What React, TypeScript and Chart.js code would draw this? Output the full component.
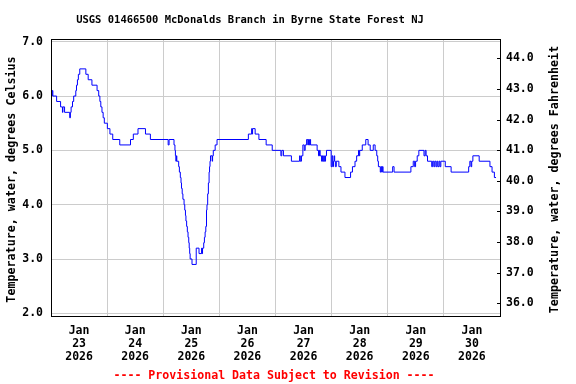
import React, { useEffect, useRef } from "react";
import { Chart, registerables } from "chart.js";

Chart.register(...registerables);

const TITLE = "USGS 01466500 McDonalds Branch in Byrne State Forest NJ";
const LEFT_TITLE = "Temperature, water, degrees Celsius";
const RIGHT_TITLE = "Temperature, water, degrees Fahrenheit";
const FOOTER = "---- Provisional Data Subject to Revision ----";

// hours since 2026-01-23 00:00 at which the reading changes
const hours = [
  0, 0.3, 0.5, 0.8, 2.4, 4.1, 4.9, 5.1, 5.8, 8.0, 8.3, 8.6, 9.2, 9.7, 10.6, 10.9, 11.3, 11.7, 12.3,
  14.9, 15.9, 17.5, 19.7, 20.4, 20.9, 21.3, 21.8, 22.3, 22.8, 24.1, 25.2, 26.4, 29.4, 34.0, 35.2,
  37.2, 40.4, 42.5, 50.1, 50.5, 52.6, 53.0, 53.2, 53.4, 53.6, 53.8, 54.6, 54.9, 55.3, 55.6, 55.8,
  56.1, 56.4, 56.9, 57.2, 57.5, 57.7, 58.0, 58.3, 58.6, 58.9, 59.1, 59.3, 59.5, 60.3, 62.1, 63.3,
  64.4, 64.6, 64.8, 65.3, 65.6, 65.9, 66.2, 66.5, 66.7, 67.0, 67.3, 67.6, 67.8, 68.0, 68.2, 68.9,
  69.1, 69.4, 70.2, 71.0, 84.4, 85.8, 86.0, 86.2, 87.3, 88.9, 92.0, 94.6, 98.3, 98.7, 99.4, 102.8,
  106.3, 106.6, 107.1, 107.7, 108.3, 108.7, 109.3, 109.8, 110.1, 110.5, 110.8, 111.0, 113.8, 114.4,
  114.8, 115.1, 115.7, 116.0, 116.2, 116.6, 116.9, 117.4, 117.8, 119.8, 120.2, 120.5, 120.8, 121.1,
  121.3, 121.6, 122.0, 123.1, 124.0, 125.7, 128.1, 128.9, 130.0, 130.7, 131.5, 131.8, 132.0, 133.1,
  134.6, 135.6, 136.5, 137.8, 138.6, 139.3, 139.7, 140.0, 140.8, 141.1, 141.4, 141.7, 142.0, 146.1,
  146.7, 153.9, 154.9, 155.5, 155.9, 156.6, 157.3, 159.5, 160.0, 160.4, 161.0, 162.8, 163.2, 163.7,
  164.1, 164.6, 165.0, 165.4, 165.9, 166.3, 166.7, 168.6, 171.1, 178.6, 179.1, 179.6, 179.9, 180.4,
  183.1, 187.7, 188.6, 189.6, 190.3,
];

const tempC = [
  6.1, 6.0, 6.1, 6.0, 5.9, 5.8, 5.7, 5.8, 5.7, 5.6, 5.7, 5.8, 5.9, 6.0, 6.1, 6.2, 6.3, 6.4, 6.5,
  6.4, 6.3, 6.2, 6.1, 6.0, 5.9, 5.8, 5.7, 5.6, 5.5, 5.4, 5.3, 5.2, 5.1, 5.2, 5.3,
  5.4, 5.3, 5.2, 5.1, 5.2, 5.1, 5.0, 4.9, 4.8, 4.9, 4.8, 4.7, 4.6, 4.5, 4.4, 4.3,
  4.2, 4.1, 4.0, 3.9, 3.8, 3.7, 3.6, 3.5, 3.4, 3.3, 3.2, 3.1, 3.0, 2.9, 3.2, 3.1,
  3.2, 3.1, 3.2, 3.3, 3.4, 3.5, 3.6, 3.9, 4.0, 4.2, 4.4, 4.6, 4.7, 4.8, 4.9, 4.8,
  4.9, 5.0, 5.1, 5.2, 5.3, 5.4, 5.3, 5.4, 5.3, 5.2, 5.1, 5.0, 4.9, 5.0, 4.9, 4.8,
  4.9, 4.8, 4.9, 5.1, 5.0, 5.1, 5.2, 5.1, 5.2, 5.1, 5.2, 5.1, 5.0, 4.9,
  5.0, 4.9, 4.8, 4.9, 4.8, 4.9, 4.8, 4.9, 5.0, 4.7, 4.9, 4.7, 4.8, 4.9,
  4.8, 4.7, 4.8, 4.7, 4.6, 4.5, 4.6, 4.7, 4.8, 4.9, 5.0, 4.9, 5.0, 5.1,
  5.2, 5.1, 5.0, 5.1, 5.0, 4.9, 4.8, 4.7, 4.6, 4.7, 4.6, 4.7, 4.6, 4.7,
  4.6, 4.7, 4.8, 4.7, 4.8, 4.9, 5.0, 4.9, 5.0, 4.9, 4.8, 4.7, 4.8, 4.7,
  4.8, 4.7, 4.8, 4.7, 4.8, 4.7, 4.8, 4.7, 4.6, 4.7, 4.8, 4.7, 4.8, 4.9,
  4.8, 4.7, 4.6, 4.5, 4.5,
];

const DAY_GRID_HOURS = [24, 48, 72, 96, 120, 144, 168];
const DAY_LABEL_HOURS = [12, 36, 60, 84, 108, 132, 156, 180];
const DAY_LABELS = [
  ["Jan", "23", "2026"],
  ["Jan", "24", "2026"],
  ["Jan", "25", "2026"],
  ["Jan", "26", "2026"],
  ["Jan", "27", "2026"],
  ["Jan", "28", "2026"],
  ["Jan", "29", "2026"],
  ["Jan", "30", "2026"],
];
const C_TICKS = [2, 3, 4, 5, 6, 7];
const F_TICKS = [36, 37, 38, 39, 40, 41, 42, 43, 44];

const X_MIN = 0;
const X_MAX = 192;
const C_MIN = 1.951;
const C_MAX = 7.05;
const F_MIN = 35.585;
const F_MAX = 44.63;

const FONT = '"DejaVu Sans Mono", monospace';

const decorPlugin = {
  id: "decor",
  afterDraw(chart: any) {
    const { ctx, chartArea: a } = chart;
    ctx.save();
    ctx.strokeStyle = "#000";
    ctx.lineWidth = 1;
    ctx.strokeRect(
      Math.round(a.left) + 0.5,
      Math.round(a.top) + 0.5,
      Math.round(a.right - a.left),
      Math.round(a.bottom - a.top)
    );
    const y2 = chart.scales.y2;
    F_TICKS.forEach((v) => {
      const y = Math.round(y2.getPixelForValue(v)) + 0.5;
      ctx.beginPath();
      ctx.moveTo(a.right - 3, y);
      ctx.lineTo(a.right + 0.5, y);
      ctx.stroke();
    });
    ctx.fillStyle = "#000";
    ctx.textAlign = "center";
    ctx.textBaseline = "middle";
    ctx.font = `bold 10.5px ${FONT}`;
    ctx.fillText(TITLE, 250, 20);

    const midY = (a.top + a.bottom) / 2 + 2;
    ctx.font = `bold 11.7px ${FONT}`;
    ctx.save();
    ctx.translate(12, midY);
    ctx.rotate(-Math.PI / 2);
    ctx.fillText(LEFT_TITLE, 0, 0);
    ctx.restore();
    ctx.save();
    ctx.translate(555, midY);
    ctx.rotate(-Math.PI / 2);
    ctx.fillText(RIGHT_TITLE, 0, 0);
    ctx.restore();

    ctx.fillStyle = "#ff0000";
    ctx.font = `bold 11.6px ${FONT}`;
    ctx.fillText(FOOTER, 274, 375.5);
    ctx.restore();
  },
};

export default function App() {
  const ref = useRef<HTMLCanvasElement | null>(null);

  useEffect(() => {
    if (!ref.current) return;
    const tickFont = { family: FONT, size: 11.5, weight: "bold" as const };
    const chart = new Chart(ref.current, {
      type: "line",
      data: {
        datasets: [
          {
            data: hours.map((h, i) => ({ x: h, y: tempC[i] })),
            borderColor: "#0000ff",
            borderWidth: 1,
            pointRadius: 0,
            stepped: "before",
            fill: false,
            xAxisID: "x",
            yAxisID: "y",
          },
        ],
      },
      options: {
        animation: false,
        responsive: false,
        devicePixelRatio: 1,
        layout: { padding: { top: 39, left: 0, right: 0, bottom: 0 } },
        plugins: {
          legend: { display: false },
          tooltip: { enabled: false },
          title: { display: false },
        },
        scales: {
          x: {
            type: "linear",
            position: "bottom",
            min: X_MIN,
            max: X_MAX,
            afterBuildTicks: (s: any) => {
              s.ticks = DAY_GRID_HOURS.map((v) => ({ value: v }));
            },
            afterFit: (s: any) => {
              s.height = 0;
            },
            grid: { color: "#cccccc", lineWidth: 1, drawTicks: false },
            border: { display: false },
            ticks: { display: false },
          },
          x2: {
            type: "linear",
            position: "bottom",
            min: X_MIN,
            max: X_MAX,
            afterBuildTicks: (s: any) => {
              s.ticks = DAY_LABEL_HOURS.map((v) => ({ value: v }));
            },
            afterFit: (s: any) => {
              s.height = 68;
            },
            grid: { display: false, drawTicks: false },
            border: { display: false },
            ticks: {
              autoSkip: false,
              maxRotation: 0,
              minRotation: 0,
              padding: 9,
              color: "#000",
              font: { ...tickFont, lineHeight: "13px" },
              callback: (_v: any, i: number) => DAY_LABELS[i],
            },
          },
          y: {
            type: "linear",
            position: "left",
            min: C_MIN,
            max: C_MAX,
            afterBuildTicks: (s: any) => {
              s.ticks = C_TICKS.map((v) => ({ value: v }));
            },
            afterFit: (s: any) => {
              s.width = 51;
            },
            grid: { color: "#cccccc", lineWidth: 1, drawTicks: false },
            border: { display: false },
            ticks: {
              padding: 8,
              color: "#000",
              font: tickFont,
              callback: (v: any) => Number(v).toFixed(1),
            },
          },
          y2: {
            type: "linear",
            position: "right",
            min: F_MIN,
            max: F_MAX,
            afterBuildTicks: (s: any) => {
              s.ticks = F_TICKS.map((v) => ({ value: v }));
            },
            afterFit: (s: any) => {
              s.width = 76;
            },
            grid: { display: true, drawOnChartArea: false, drawTicks: false },
            border: { display: false },
            ticks: {
              padding: 6,
              color: "#000",
              font: tickFont,
              callback: (v: any) => Number(v).toFixed(1),
            },
          },
        },
      },
      plugins: [decorPlugin],
    });
    return () => chart.destroy();
  }, []);

  return (
    <div style={{ position: "absolute", left: 0, top: 0, width: 576, height: 384, background: "#fff" }}>
      <canvas ref={ref} width={576} height={384} style={{ display: "block" }} />
    </div>
  );
}
